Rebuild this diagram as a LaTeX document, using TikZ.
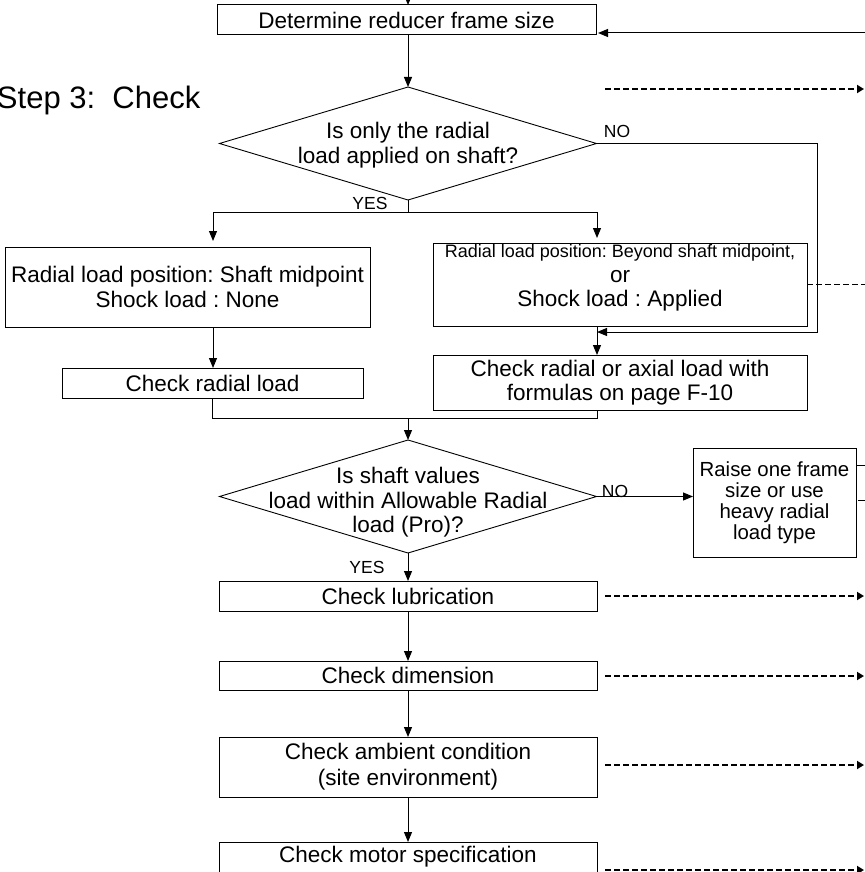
\documentclass[tikz,border=0pt]{standalone}
\usepackage{fontspec}
\setmainfont{Liberation Sans}
\newfontfamily\nf{Liberation Sans}
\frenchspacing
\usetikzlibrary{arrows.meta,shapes.geometric}
\begin{document}
\begin{tikzpicture}[x=1pt,y=-1pt,
  every node/.style={inner sep=0pt, outer sep=0pt},
  box/.style={draw, line width=1pt, rectangle, align=center, font=\nf\fontsize{22.5}{24.5}\selectfont},
  dia/.style={draw, line width=0.9pt, diamond},
  txt/.style={align=center, font=\nf\fontsize{22.5}{24.5}\selectfont},
  lab/.style={font=\nf\fontsize{17.5}{18}\selectfont},
  ln/.style={line width=1pt},
  arr/.style={line width=1pt, -{Triangle[length=10pt,width=8pt]}},
  darr/.style={line width=1.8pt, dash pattern=on 5.5pt off 3.5pt, -{Triangle[length=7pt,width=8pt]}},
  dln/.style={line width=1.8pt, dash pattern=on 5.5pt off 3.5pt},
]
\useasboundingbox (0,0) rectangle (864,872);

% title
\node[anchor=base west, font=\nf\fontsize{31}{34}\selectfont] (title) at (-3,109) {Step 3:~ Check};

% boxes
\node[box, minimum width=379pt, minimum height=30pt] (top) at (406.5,20) {Determine reducer frame size};
\node[dia, minimum width=377pt, minimum height=113pt] (d1) at (408,143.5) {};
\node[txt] (t1) at (408,145) {Is only the radial\\load applied on shaft?};

\node[box, minimum width=365pt, minimum height=80pt] (left1) at (187.5,287) {Radial load position: Shaft midpoint\\Shock load : None};
\node[box, minimum width=374pt, minimum height=83pt] (right1) at (620,284.5) {};
\node[txt] (t2) at (620,278) {{\fontsize{18}{24.5}\selectfont Radial load position: Beyond shaft midpoint,}\\or\\Shock load : Applied};

\node[box, minimum width=301pt, minimum height=30pt] (leftc) at (212.5,383) {Check radial load};
\node[box, minimum width=374pt, minimum height=55pt] (f10) at (620,382.5) {Check radial or axial load with\\formulas on page F-10};

\node[dia, minimum width=377pt, minimum height=113pt] (d2) at (408,496.5) {};
\node[txt] (t3) at (408,502.5) {Is shaft values\\load within Allowable Radial\\load (Pro)?};

\node[box, minimum width=163pt, minimum height=109pt, font=\nf\fontsize{20.4}{21}\selectfont] (raise) at (774.5,502.5) {Raise one frame\\size or use\\heavy radial\\load type};

\node[box, minimum width=378pt, minimum height=30pt] (lubr) at (408,596) {Check lubrication};
\node[box, minimum width=378pt, minimum height=29pt] (dim) at (408,675.5) {Check dimension};
\node[box, minimum width=378pt, minimum height=60pt, font=\nf\fontsize{22.5}{26}\selectfont] (amb) at (408,767) {Check ambient condition\\(site environment)};
\node[box, minimum width=378pt, minimum height=30pt] (motor) at (408,857) {Check motor specification};

% labels
\node[lab] (yes1) at (370,203) {YES};
\node[lab] (no1) at (617,131) {NO};
\node[lab] (no2) at (615,491) {NO};
\node[lab] (yes2) at (367,567) {YES};

% helper coordinates
\coordinate (cx) at (408,0);
\coordinate (in0) at (408,-12);
\coordinate (lx) at (213,212);
\coordinate (rx) at (597,212);
\coordinate (nc) at (817,332);
\coordinate (m) at (408,418);
\coordinate (fb) at (870,33);
\coordinate (e1) at (864,89);
\coordinate (s1) at (605,89);
\coordinate (s2) at (605,596);
\coordinate (s3) at (605,676);
\coordinate (s4) at (605,765);
\coordinate (s5) at (605,870);
\coordinate (r1) at (870,465);
\coordinate (r2a) at (858,500);
\coordinate (r2b) at (866,500);
\coordinate (bx) at (870,0);

% solid connectors
\draw[arr] (in0) -- (top.north -| in0);
\draw[arr] (top.south -| cx) -- (d1.north);
\draw[ln] (d1.south) -- (d1.south |- lx);
\draw[ln] (lx) -- (rx);
\draw[arr, shorten >=6pt] (lx) -- (lx |- left1.north);
\draw[arr, shorten >=5pt] (rx) -- (rx |- right1.north);
\draw[arr] (left1.south -| lx) -- (leftc.north -| lx);
\draw[arr] (right1.south -| rx) -- (f10.north -| rx);
\draw[arr] (d1.east) -| (nc) -- (nc -| rx);
\draw[ln] (leftc.south) |- (m);
\draw[ln] (f10.south -| rx) |- (m);
\draw[arr] (m) -- (d2.north);
\draw[arr] (d2.east) -- (d2.east -| raise.west);
\draw[arr] (d2.south) -- (lubr.north);
\draw[arr] (lubr.south) -- (dim.north);
\draw[arr] (dim.south) -- (amb.north);
\draw[arr] (amb.south) -- (motor.north);
\draw[arr, shorten >=2pt] (fb) -- (fb -| top.east);
\draw[ln] (r1 -| raise.east) -- (r1);
\draw[ln] (r2a) -- (r2b);

% dashed connectors
\draw[darr] (s1) -- (e1);
\draw[dln] (right1.east) -- (right1.east -| bx);
\draw[darr] (s2) -- (s2 -| e1);
\draw[darr] (s3) -- (s3 -| e1);
\draw[darr] (s4) -- (s4 -| e1);
\draw[darr] (s5) -- (s5 -| e1);
\end{tikzpicture}
\end{document}
